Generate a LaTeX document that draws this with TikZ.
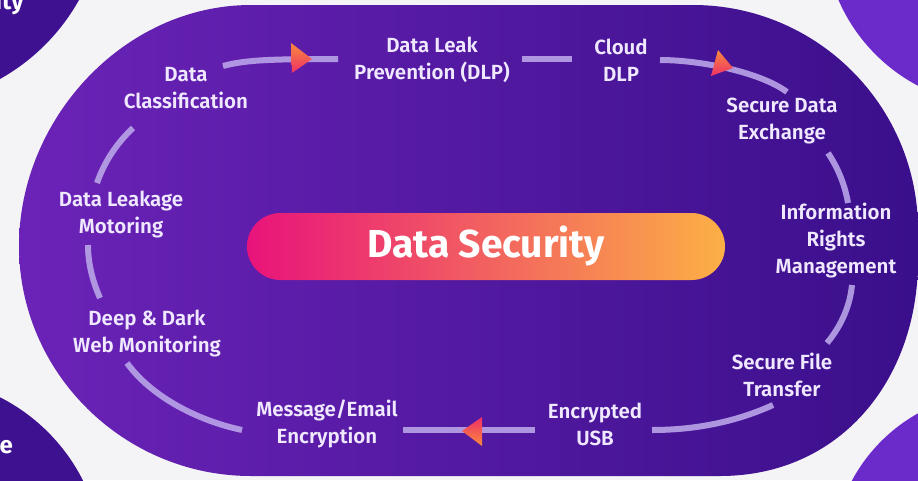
\documentclass[tikz,border=0pt]{standalone}
\usepackage{fontspec}
\setmainfont{Fira Sans}
\newfontfamily\labfont{Fira Sans SemiBold}
\newfontfamily\bigfont{Fira Sans Bold}
\definecolor{bgcol}{HTML}{F4F4F6}
\definecolor{mainleft}{HTML}{6B23B7}
\definecolor{mainright}{HTML}{3A0F8B}
\definecolor{darkcirc}{HTML}{3D1190}
\definecolor{violetcirc}{HTML}{6B2BCB}
\definecolor{pillleft}{HTML}{E8137B}
\definecolor{pillmid}{HTML}{F2605A}
\definecolor{pillright}{HTML}{FCB045}
\definecolor{segcol}{HTML}{B9A4E8}
\definecolor{labtext}{HTML}{EFE8FF}
\definecolor{arrA}{HTML}{F98A3C}
\definecolor{arrB}{HTML}{EE2F68}
\begin{document}
\begin{tikzpicture}[x=1pt,y=-1pt,
  lab/.style={text=labtext, font=\labfont\fontsize{20.5}{27}\selectfont, align=center, inner sep=0pt},
  seg/.style={draw=segcol, line width=6pt, opacity=0.9},
  cornertxt/.style={text=white, font=\bigfont\fontsize{24}{28}\selectfont, inner sep=0pt},
]
\useasboundingbox (0,0) rectangle (918,480);
\clip (0,0) rectangle (918,480);
\fill[bgcol] (0,0) rectangle (918,480);
% corner circles
\fill[darkcirc] (-100,-100) circle[radius=205];
\fill[darkcirc] (-85,565) circle[radius=188];
\fill[violetcirc] (1000,-70) circle[radius=176];
\fill[violetcirc] (1000,560) circle[radius=168];
\node[cornertxt, anchor=base east] (ity) at (24,9) {ity};
\node[cornertxt, anchor=base east] (re) at (13,453) {re};
% main shape
\shade[left color=mainleft, right color=mainright]
  (251,5) -- (693,5) .. controls (817,5) and (918,106) .. (918,230)
  -- (918,260) .. controls (918,380) and (840,476) .. (720,476)
  -- (251,476) .. controls (124,476) and (19,373) .. (19,246)
  .. controls (19,119) and (124,5) .. (251,5) -- cycle;
% central pill
\shade[left color=pillleft, middle color=pillmid, right color=pillright, rounded corners=33.5pt]
  (247,213) rectangle (725,280);
\node[text=white, font=\bigfont\fontsize{39}{44}\selectfont, inner sep=0pt] (ds) at (486,246) {Data Security};
% labels
\node[lab] (dc)   at (186,88)  {Data\\Classification};
\node[lab] (dlp)  at (432,60)  {Data Leak\\Prevention (DLP)};
\node[lab] (cdlp) at (621,60)  {Cloud\\DLP};
\node[lab] (sde)  at (782,121) {Secure Data\\Exchange};
\node[lab] (irm)  at (836,241) {Information\\Rights\\Management};
\node[lab] (sft)  at (782,375) {Secure File\\Transfer};
\node[lab] (usb)  at (595,424) {Encrypted\\USB};
\node[lab] (mee)  at (327,424) {Message/Email\\Encryption};
\node[lab] (ddw)  at (147,333) {Deep \& Dark\\Web Monitoring};
\node[lab] (dlm)  at (121,214) {Data Leakage\\Motoring};
% segment end points
\coordinate (s1a) at (223,66);  \coordinate (s1b) at (338,59);
\coordinate (s2a) at (522,59);  \coordinate (s2b) at (572,59);
\coordinate (s3a) at (660,60);  \coordinate (s3b) at (787,92);
\coordinate (s4a) at (828,153); \coordinate (s4b) at (848,203);
\coordinate (s5a) at (852,285); \coordinate (s5b) at (827,343);
\coordinate (s6a) at (773,405); \coordinate (s6b) at (652,430);
\coordinate (s7a) at (535,430); \coordinate (s7b) at (403,430);
\coordinate (s8a) at (242,430); \coordinate (s8b) at (127,363);
\coordinate (s9a) at (100,298); \coordinate (s9b) at (88,245);
\coordinate (s10a) at (97,183); \coordinate (s10b) at (133,128);
% segments
\draw[seg] (s1a) .. controls (245,60) and (270,59) .. (s1b);
\draw[seg] (s2a) -- (s2b);
\draw[seg] (s3a) .. controls (700,60) and (760,72) .. (s3b);
\draw[seg] (s4a) .. controls (838,168) and (845,185) .. (s4b);
\draw[seg] (s5a) .. controls (850,305) and (842,325) .. (s5b);
\draw[seg] (s6a) .. controls (740,420) and (700,430) .. (s6b);
\draw[seg] (s7a) -- (s7b);
\draw[seg] (s8a) .. controls (195,420) and (150,395) .. (s8b);
\draw[seg] (s9a) .. controls (92,280) and (88,262) .. (s9b);
\draw[seg] (s10a) .. controls (105,160) and (118,142) .. (s10b);
% arrow heads
\shade[top color=arrA, bottom color=arrB] (291,43) -- (312,59) -- (292,73) -- cycle;
\shade[top color=arrA, bottom color=arrB] (718,50) -- (733,68) -- (711,76) -- cycle;
\shade[top color=arrB, bottom color=arrA] (482,417) -- (462,431) -- (482,446) -- cycle;
\end{tikzpicture}
\end{document}
